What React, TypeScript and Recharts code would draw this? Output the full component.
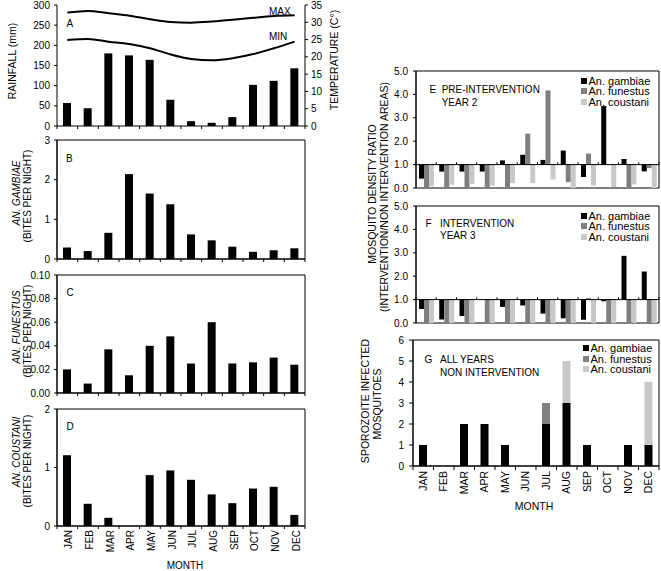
import React from 'react';
import { ComposedChart, Bar, Line, XAxis, YAxis, ReferenceArea, ReferenceLine, Legend } from 'recharts';

const FONT = '"Liberation Sans", Arial, sans-serif';

// ---------- data ----------
const months = ['JAN', 'FEB', 'MAR', 'APR', 'MAY', 'JUN', 'JUL', 'AUG', 'SEP', 'OCT', 'NOV', 'DEC'];
const rainfall = [57, 44, 180, 175, 164, 65, 12, 8, 22, 102, 112, 143];
const tempMax = [32.8, 33.3, 32.6, 31.9, 30.9, 30.1, 29.9, 30.2, 30.7, 31.3, 31.8, 32.0];
const tempMin = [24.9, 25.2, 24.4, 23.7, 22.5, 20.7, 19.4, 19.0, 19.6, 20.8, 22.5, 24.4];
const gambiaeBites = [0.29, 0.2, 0.66, 2.14, 1.65, 1.38, 0.62, 0.47, 0.31, 0.18, 0.22, 0.27];
const funestusBites = [0.02, 0.008, 0.037, 0.015, 0.04, 0.048, 0.025, 0.06, 0.025, 0.026, 0.03, 0.024];
const coustaniBites = [1.21, 0.38, 0.14, 0, 0.87, 0.95, 0.79, 0.54, 0.39, 0.64, 0.67, 0.19];
const preGambiae = [0.4, 0.7, 0.7, 0.7, 1.18, 1.42, 1.2, 1.6, 0.47, 3.5, 1.24, 0.71];
const preFunestus: (number | null)[] = [0, 0, 0, 0, 0, 2.32, 4.17, 0.25, 1.47, null, 0, 0.85];
const preCoustani = [0.07, 0.14, 0.17, 0.1, 0.21, 0.21, 0.36, 0, 0.1, 0.04, 0.15, 0];
const intGambiae: (number | null)[] = [0.6, 0.15, 0.3, null, 0.69, 0.75, 0.4, 0.2, 0.14, 0.93, 2.87, 2.2];
const intFunestus = [0, 0, 0, 0, 0, 0, 0, 0, 1.07, 0, 0, 0];
const intCoustani = [0, 0, 0, 0, 0, 0, 0, 0, 0, 0, 0, 0];
const spGambiae = [1, 0, 2, 2, 1, 0, 2, 3, 1, 0, 1, 1];
const spFunestus = [0, 0, 0, 0, 0, 0, 1, 0, 0, 0, 0, 0];
const spCoustani = [0, 0, 0, 0, 0, 0, 0, 2, 0, 0, 0, 3];

const speciesNames = ['An. gambiae', 'An. funestus', 'An. coustani'];
const speciesColors = ['#000000', '#7f7f7f', '#c8c8c8'];

const rainTicks = [0, 50, 100, 150, 200, 250, 300];
const tempTicks = [0, 5, 10, 15, 20, 25, 30, 35];
const bTicks = [0, 1, 2, 3];
const cTicks = [0, 0.02, 0.04, 0.06, 0.08, 0.1];
const dTicks = [0, 1, 2];
const ratioTicks = [0, 1, 2, 3, 4, 5];
const spTicks = [0, 1, 2, 3, 4, 5, 6];

// ---------- derived tables (pos = month slot centre on a 0..12 scale) ----------
const dataA = months.map((m, i) => ({ m, pos: i + 0.5, rain: rainfall[i], max: tempMax[i], min: tempMin[i] }));
const dataB = months.map((m, i) => ({ m, pos: i + 0.5, v: gambiaeBites[i] }));
const dataC = months.map((m, i) => ({ m, pos: i + 0.5, v: funestusBites[i] }));
const dataD = months.map((m, i) => ({ m, pos: i + 0.5, v: coustaniBites[i] }));
const dataE = months.map((m, i) => ({ m, pos: i + 0.5, g: preGambiae[i], f: preFunestus[i], c: preCoustani[i] }));
const dataF = months.map((m, i) => ({ m, pos: i + 0.5, g: intGambiae[i], f: intFunestus[i], c: intCoustani[i] }));
const dataG = months.map((m, i) => ({ m, pos: i + 0.5, g: spGambiae[i], f: spFunestus[i], c: spCoustani[i] }));

const halfTicks = Array.from({ length: 25 }, (_, i) => i / 2);
const intTicks = Array.from({ length: 13 }, (_, i) => i);

const around1 = (key: string) => (d: any) =>
  d[key] == null ? null : [Math.min(1, d[key]), Math.max(1, d[key])];

function makeMonthTick(showLabels: boolean, labelDx: number, tickLen: number, fontSize: number, labelDy: number) {
  return (props: any) => {
    const { x, y, payload } = props;
    const v = Number(payload.value);
    if (Math.abs(v - Math.round(v)) < 1e-6) {
      return <line x1={x} y1={y} x2={x} y2={y + tickLen} stroke="#000" strokeWidth={1} />;
    }
    if (!showLabels) return <g />;
    const label = months[Math.floor(v)];
    return (
      <text
        transform={`translate(${x + labelDx},${y + labelDy}) rotate(-90)`}
        textAnchor="end"
        fontSize={fontSize}
        fontFamily={FONT}
        fill="#000"
      >
        {label}
      </text>
    );
  };
}

const tickStyle = (size: number) => ({ fill: '#000', fontSize: size, fontFamily: FONT });

const LegendContent = () => (
  <div style={{ fontFamily: FONT, fontSize: 11, color: '#000' }}>
    {speciesNames.map((name, i) => (
      <div
        key={name}
        style={{ height: 10.5, lineHeight: '10.5px', whiteSpace: 'nowrap', display: 'flex', alignItems: 'center' }}
      >
        <span style={{ display: 'inline-block', width: 6, height: 6, background: speciesColors[i], marginRight: 1.5 }} />
        <span>{name}</span>
      </div>
    ))}
  </div>
);

type LeftProps = {
  top: number;
  height: number;
  marginTop: number;
  data: any[];
  max: number;
  ticks: number[];
  fmt: (v: number) => string;
  showMonths: boolean;
  xHeight: number;
};

function LeftPanel({ top, height, marginTop, data, max, ticks, fmt, showMonths, xHeight }: LeftProps) {
  return (
    <div style={{ position: 'absolute', left: 0, top }}>
      <ComposedChart width={345} height={height} data={data} margin={{ top: marginTop, right: 40, bottom: 0, left: 17 }}>
        <XAxis
          xAxisId="num"
          dataKey="pos"
          type="number"
          domain={[0, 12]}
          allowDataOverflow
          ticks={halfTicks}
          interval={0}
          tickLine={false}
          tickSize={0}
          tickMargin={0}
          height={xHeight}
          axisLine={{ stroke: '#000' }}
          tick={makeMonthTick(showMonths, 5, 3, 10, 4)}
        />
        <XAxis xAxisId="cat" dataKey="m" hide height={0} />
        <YAxis
          yAxisId="l"
          domain={[0, max]}
          ticks={ticks}
          tickFormatter={fmt}
          width={40}
          stroke="#000"
          tickSize={3}
          tickMargin={4}
          tick={tickStyle(10)}
          interval={0}
        />
        <ReferenceArea xAxisId="num" yAxisId="l" x1={0} x2={12} y1={0} y2={max} fill="none" stroke="#000" ifOverflow="visible" />
        <Bar xAxisId="cat" yAxisId="l" dataKey="v" fill="#000" barSize={8} isAnimationActive={false} />
      </ComposedChart>
    </div>
  );
}

type RatioProps = { top: number; data: any[] };

function RatioPanel({ top, data }: RatioProps) {
  return (
    <div style={{ position: 'absolute', left: 345, top }}>
      <ComposedChart width={316} height={133} data={data} margin={{ top: 9, right: 2, bottom: 7, left: 41 }} barGap={0}>
        <XAxis xAxisId="cat" dataKey="m" hide height={0} />
        <XAxis xAxisId="num" dataKey="pos" type="number" domain={[0, 12]} allowDataOverflow hide height={0} />
        <YAxis
          yAxisId="l"
          domain={[0, 5]}
          ticks={ratioTicks}
          tickFormatter={(v: number) => v.toFixed(1)}
          width={30}
          stroke="#000"
          tickSize={3}
          tickMargin={5}
          tick={tickStyle(10)}
          interval={0}
        />
        <ReferenceArea xAxisId="num" yAxisId="l" x1={0} x2={12} y1={0} y2={5} fill="none" stroke="#000" ifOverflow="visible" />
        <Bar xAxisId="cat" yAxisId="l" name={speciesNames[0]} dataKey={around1('g')} fill={speciesColors[0]} barSize={5} isAnimationActive={false} />
        <Bar xAxisId="cat" yAxisId="l" name={speciesNames[1]} dataKey={around1('f')} fill={speciesColors[1]} barSize={5} isAnimationActive={false} />
        <Bar xAxisId="cat" yAxisId="l" name={speciesNames[2]} dataKey={around1('c')} fill={speciesColors[2]} barSize={5} isAnimationActive={false} />
        <ReferenceLine xAxisId="num" yAxisId="l" y={1} stroke="#000" />
        {intTicks.map((k) => (
          <ReferenceLine
            key={k}
            xAxisId="num"
            yAxisId="l"
            segment={[{ x: k, y: 1 }, { x: k, y: 1.1 }]}
            stroke="#000"
          />
        ))}
        <Legend
          layout="vertical"
          align="center"
          verticalAlign="middle"
          wrapperStyle={{ left: 236, top: 13.5, width: 'auto' }}
          content={LegendContent}
        />
      </ComposedChart>
    </div>
  );
}

export default function App() {
  return (
    <div style={{ position: 'absolute', left: 0, top: 0, width: 661, height: 571, background: '#fff', fontFamily: FONT }}>
      {/* Panel A */}
      <div style={{ position: 'absolute', left: 0, top: 0 }}>
        <ComposedChart width={345} height={134} data={dataA} margin={{ top: 5, right: 10, bottom: 0, left: 17 }}>
          <XAxis
            xAxisId="num"
            dataKey="pos"
            type="number"
            domain={[0, 12]}
            allowDataOverflow
            ticks={halfTicks}
            interval={0}
            tickLine={false}
            tickSize={0}
            tickMargin={0}
            height={8}
            axisLine={{ stroke: '#000' }}
            tick={makeMonthTick(false, 5, 3, 10, 4)}
          />
          <XAxis xAxisId="cat" dataKey="m" hide height={0} />
          <YAxis
            yAxisId="r"
            domain={[0, 300]}
            ticks={rainTicks}
            width={40}
            stroke="#000"
            tickSize={3}
            tickMargin={4}
            tick={tickStyle(10)}
            interval={0}
          />
          <YAxis
            yAxisId="t"
            orientation="right"
            domain={[0, 35]}
            ticks={tempTicks}
            width={30}
            stroke="#000"
            tickSize={3}
            tickMargin={3}
            tick={tickStyle(10)}
            interval={0}
          />
          <Bar xAxisId="cat" yAxisId="r" dataKey="rain" fill="#000" barSize={8} isAnimationActive={false} />
          <Line xAxisId="cat" yAxisId="t" type="monotone" dataKey="max" stroke="#000" strokeWidth={2} dot={false} isAnimationActive={false} />
          <Line xAxisId="cat" yAxisId="t" type="monotone" dataKey="min" stroke="#000" strokeWidth={2} dot={false} isAnimationActive={false} />
        </ComposedChart>
      </div>

      <LeftPanel top={135} height={132} marginTop={5} data={dataB} max={3} ticks={bTicks} fmt={(v) => String(v)} showMonths={false} xHeight={8} />
      <LeftPanel top={268} height={133} marginTop={7} data={dataC} max={0.1} ticks={cTicks} fmt={(v) => v.toFixed(2)} showMonths={false} xHeight={8} />
      <LeftPanel top={400} height={160} marginTop={9} data={dataD} max={2} ticks={dTicks} fmt={(v) => String(v)} showMonths={true} xHeight={34} />

      <RatioPanel top={62} data={dataE} />
      <RatioPanel top={197} data={dataF} />

      {/* Panel G */}
      <div style={{ position: 'absolute', left: 345, top: 332 }}>
        <ComposedChart width={316} height={166} data={dataG} margin={{ top: 8, right: 2, bottom: 0, left: 43 }}>
          <XAxis
            xAxisId="num"
            dataKey="pos"
            type="number"
            domain={[0, 12]}
            allowDataOverflow
            ticks={halfTicks}
            interval={0}
            tickLine={false}
            tickSize={0}
            tickMargin={0}
            height={32}
            axisLine={{ stroke: '#000' }}
            tick={makeMonthTick(true, 3.5, 4, 10.5, 5)}
          />
          <XAxis xAxisId="cat" dataKey="m" hide height={0} />
          <YAxis
            yAxisId="l"
            domain={[0, 6]}
            ticks={spTicks}
            width={25}
            stroke="#000"
            tickSize={4}
            tickMargin={5}
            tick={tickStyle(10)}
            interval={0}
          />
          <ReferenceArea xAxisId="num" yAxisId="l" x1={0} x2={12} y1={0} y2={6} fill="none" stroke="#000" ifOverflow="visible" />
          <Bar xAxisId="cat" yAxisId="l" stackId="s" name={speciesNames[0]} dataKey="g" fill={speciesColors[0]} barSize={8} isAnimationActive={false} />
          <Bar xAxisId="cat" yAxisId="l" stackId="s" name={speciesNames[1]} dataKey="f" fill={speciesColors[1]} barSize={8} isAnimationActive={false} />
          <Bar xAxisId="cat" yAxisId="l" stackId="s" name={speciesNames[2]} dataKey="c" fill={speciesColors[2]} barSize={8} isAnimationActive={false} />
          <Legend
            layout="vertical"
            align="center"
            verticalAlign="middle"
            wrapperStyle={{ left: 238, top: 11, width: 'auto' }}
            content={LegendContent}
          />
        </ComposedChart>
      </div>

      {/* text annotations */}
      <svg width={661} height={571} style={{ position: 'absolute', left: 0, top: 0, pointerEvents: 'none' }} fontFamily={FONT} fill="#000">
        <text x={66.5} y={26.5} fontSize={10}>A</text>
        <text x={269} y={15} fontSize={10}>MAX</text>
        <text x={269} y={40} fontSize={10}>MIN</text>
        <text x={66} y={161.5} fontSize={10}>B</text>
        <text x={66.5} y={296} fontSize={10}>C</text>
        <text x={66.5} y={430} fontSize={10}>D</text>
        <text x={185} y={569} fontSize={10} textAnchor="middle">MONTH</text>

        <text transform="translate(15.5,61) rotate(-90)" textAnchor="middle" fontSize={10.5}>RAINFALL (mm)</text>
        <text transform="translate(338,60) rotate(-90)" textAnchor="middle" fontSize={10.5}>TEMPERATURE (C°)</text>

        <text transform="translate(20,193) rotate(-90)" textAnchor="middle" fontSize={10} fontStyle="italic">AN. GAMBIAE</text>
        <text transform="translate(31,196) rotate(-90)" textAnchor="middle" fontSize={10}>(BITES PER NIGHT)</text>
        <text transform="translate(20,327) rotate(-90)" textAnchor="middle" fontSize={10} fontStyle="italic">AN. FUNESTUS</text>
        <text transform="translate(31,331) rotate(-90)" textAnchor="middle" fontSize={10}>(BITES PER NIGHT)</text>
        <text transform="translate(20,452) rotate(-90)" textAnchor="middle" fontSize={10} fontStyle="italic">AN. COUSTANI</text>
        <text transform="translate(31,461) rotate(-90)" textAnchor="middle" fontSize={10}>(BITES PER NIGHT)</text>

        <text x={429.5} y={93.3} fontSize={10}>E</text>
        <text x={441.7} y={93.3} fontSize={10}>PRE-INTERVENTION</text>
        <text x={441.7} y={105.5} fontSize={10}>YEAR 2</text>
        <text x={425.5} y={226.7} fontSize={10}>F</text>
        <text x={440} y={226.7} fontSize={10}>INTERVENTION</text>
        <text x={440} y={239} fontSize={10}>YEAR 3</text>
        <text x={424.5} y={362.5} fontSize={10}>G</text>
        <text x={440} y={362.5} fontSize={10}>ALL YEARS</text>
        <text x={440} y={375.5} fontSize={10}>NON INTERVENTION</text>

        <text transform="translate(376,194) rotate(-90)" textAnchor="middle" fontSize={10.5}>MOSQUITO DENSITY RATIO</text>
        <text transform="translate(387.5,197) rotate(-90)" textAnchor="middle" fontSize={10.5}>(INTERVENTION/NON INTERVENTION AREAS)</text>
        <text transform="translate(368.5,401) rotate(-90)" textAnchor="middle" fontSize={10.5}>SPOROZOITE INFECTED</text>
        <text transform="translate(380.5,404) rotate(-90)" textAnchor="middle" fontSize={10.5}>MOSQUITOES</text>
        <text x={534} y={510} fontSize={10.5} textAnchor="middle">MONTH</text>
      </svg>
    </div>
  );
}
